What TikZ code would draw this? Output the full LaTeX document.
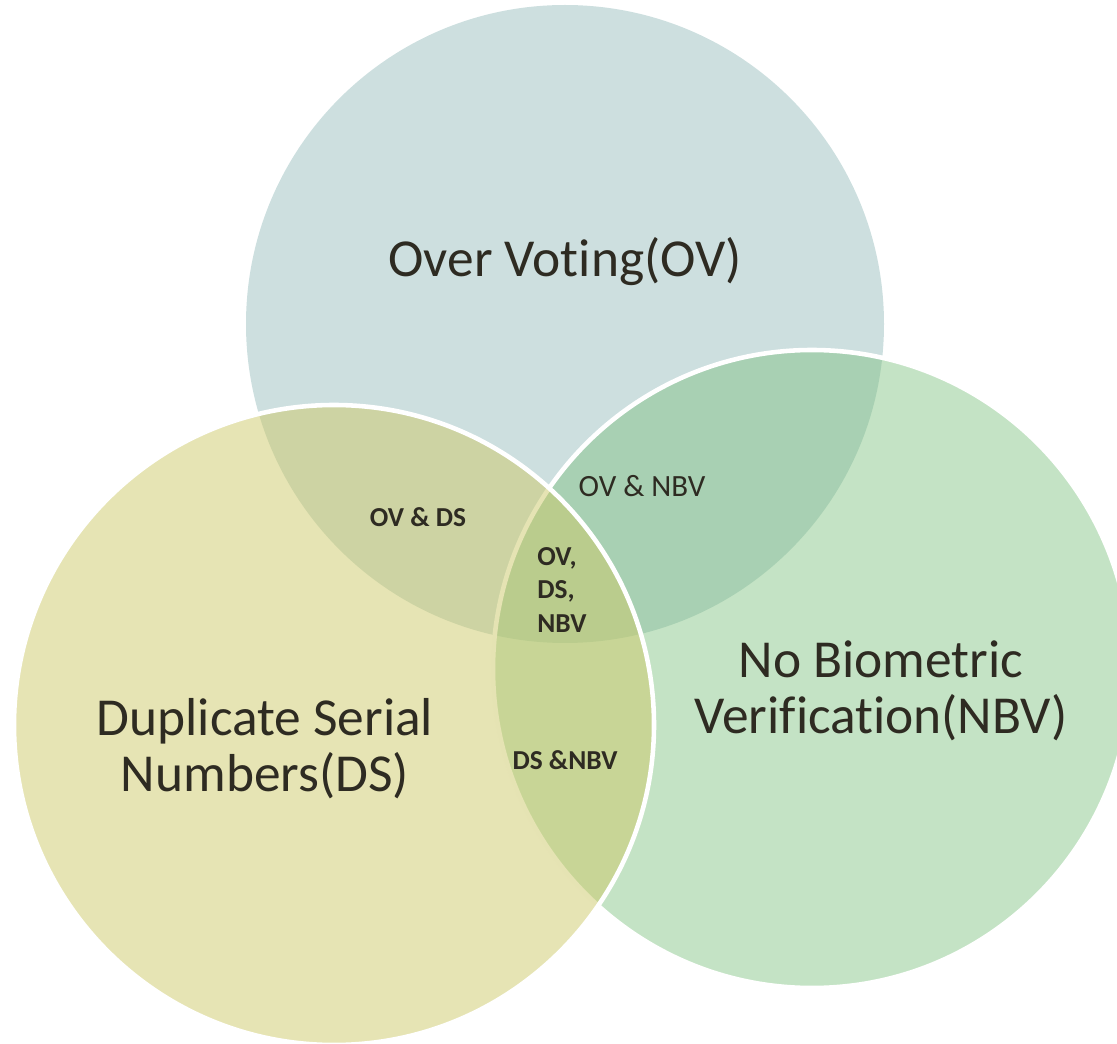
\documentclass[tikz,border=0pt]{standalone}
\usepackage{fontspec}
\setmainfont[Ligatures=NoCommon]{Carlito}
\usepackage{xcolor}
\usetikzlibrary{positioning}
\definecolor{ovblue}{HTML}{CDDFDF}
\definecolor{nbvgreen}{HTML}{79BF7B}
\definecolor{dsolive}{HTML}{CDC969}
\definecolor{venntext}{HTML}{2E2B22}

\begin{document}
\begin{tikzpicture}[x=0.02cm, y=-0.02cm,
		set/.style={line width=2.6pt, draw=white}, % white rim round each set
		big label/.style={align=center, text=venntext, inner sep=0pt, font=\fontsize{30.4}{32}\selectfont},
		pair label/.style={align=center, text=venntext, inner sep=0pt, font=\fontsize{17.6}{20}\selectfont},
		bold label/.style={align=left, text=venntext, inner sep=0pt, font=\fontsize{15.6}{19.3}\selectfont\bfseries}
		]
		\useasboundingbox (0,0) rectangle (1117,1044);
		\clip (0,0) rectangle (1117,1044);
		% Centres of the three sets
		\coordinate (ov) at (565,324);
		\coordinate (nbv) at (812,669);
		\coordinate (ds) at (334,725);
		% Sets (drawn from back to front)
		\fill[ovblue] (ov) circle[radius=319];
		\draw[set, fill=nbvgreen, fill opacity=0.44] (nbv) circle[radius=319];
		\draw[set, fill=dsolive, fill opacity=0.5] (ds) circle[radius=320];
		% Set names
		\node[big label] (ovname) at (565,262) {Over Voting(OV)};
		\node[big label] (nbvname) at (881,691) {No Biometric\\Verification(NBV)};
		\node[big label] (dsname) at (265,749) {Duplicate Serial\\Numbers(DS)};
		% Overlaps
		\node[pair label] (ovnbv) at (642,486) {OV \& NBV};
		\node[bold label] (ovds) at (418,517) {OV \& DS};
		\node[bold label, anchor=west] (all) at (537,590) {OV,\\DS,\\NBV};
		\node[bold label] (dsnbv) at (565,760) {DS \&NBV};
	\end{tikzpicture}
\end{document}
